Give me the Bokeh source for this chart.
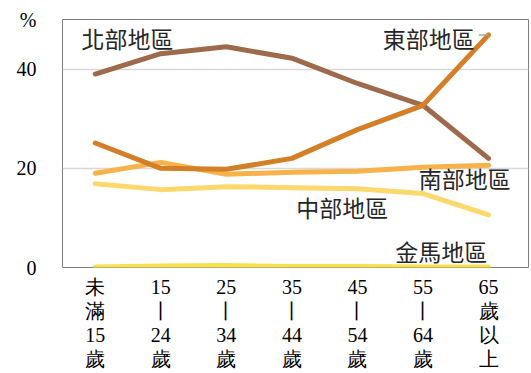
from bokeh.plotting import figure
from bokeh.models import Label, Range1d, FixedTicker
from bokeh.embed import file_html
from bokeh.resources import INLINE

categories = ["未\n滿\n15\n歲", "15\n丨\n24\n歲", "25\n丨\n34\n歲", "35\n丨\n44\n歲",
              "45\n丨\n54\n歲", "55\n丨\n64\n歲", "65\n歲\n以\n上"]
north = [39.0, 43.1, 44.5, 42.2, 37.1, 32.7, 22.0]
east = [25.1, 20.0, 19.8, 22.0, 27.8, 32.7, 46.9]
south = [19.0, 21.2, 18.8, 19.2, 19.4, 20.2, 20.6]
central = [16.9, 15.7, 16.3, 16.1, 15.9, 14.9, 10.6]
kinma = [0.1, 0.3, 0.4, 0.2, 0.2, 0.1, 0.1]
y_ticks = [0, 20, 40]
unit_label = "%"

xs = list(range(len(categories)))

p = figure(width=531, height=373, output_backend="svg", toolbar_location=None,
           x_range=Range1d(-0.5, 6.61), y_range=Range1d(0, 50),
           min_border_left=62, min_border_top=19, min_border_right=3, min_border_bottom=0)
p.outline_line_color = "#808080"
p.outline_line_width = 1
p.background_fill_color = "white"
p.border_fill_color = "white"

p.xgrid.grid_line_color = None
p.ygrid.ticker = FixedTicker(ticks=[20, 40])
p.ygrid.grid_line_color = "#d9d9d9"
p.ygrid.grid_line_width = 1.5

p.yaxis.ticker = FixedTicker(ticks=y_ticks + [50])
p.yaxis.major_label_overrides = {50: unit_label}
p.xaxis.ticker = FixedTicker(ticks=xs)
p.xaxis.major_label_overrides = {i: c for i, c in enumerate(categories)}
for ax in (p.xaxis, p.yaxis):
    ax.axis_line_color = None
    ax.major_tick_line_color = None
    ax.minor_tick_line_color = None
    ax.major_label_text_font = "Liberation Serif"
    ax.major_label_text_font_size = "20px"
    ax.major_label_text_color = "black"
p.yaxis.major_label_standoff = 20
p.xaxis.major_label_standoff = 2
p.xaxis.major_label_text_line_height = 1.1

series = [
    (kinma, "#F7E24C"),
    (central, "#FDD86C"),
    (south, "#F8B24A"),
    (north, "#9E6A4C"),
    (east, "#D47F26"),
]
for ys, col in series:
    p.line(xs, ys, line_color=col, line_width=5, line_cap="round", line_join="round")

# leader line for east label
p.line([5.85, 5.99], [east[-1], east[-1]], line_color="#A6A6A6", line_width=1.5)

font = "Noto Sans CJK TC"
labels = [
    ("北部地區", -0.21, 46.3, "left"),
    ("東部地區", 5.79, 46.3, "right"),
    ("南部地區", 6.34, 18.0, "right"),
    ("中部地區", 4.47, 12.2, "right"),
    ("金馬地區", 5.98, 3.3, "right"),
]
for t, x, y, al in labels:
    p.add_layout(Label(x=x, y=y, text=t, text_font=font, text_font_size="23px",
                       text_align=al, text_baseline="middle", text_color="#262626"))

open("out.html", "w").write(file_html(p, INLINE))
